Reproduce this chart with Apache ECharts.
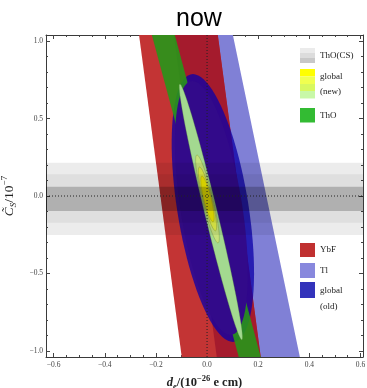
<!DOCTYPE html>
<html>
<head>
<meta charset="utf-8">
<script src="https://cdn.jsdelivr.net/npm/echarts@6/dist/echarts.min.js"></script>
<style>
  html, body { margin: 0; padding: 0; background: #fff; }
  #chart { width: 367px; height: 388px; }
</style>
</head>
<body>
<div id="chart"></div>
<script>
// axis ranges and tick labels
const xMin = -0.63, xMax = 0.61, yMin = -1.04, yMax = 1.04;
const xTicks = [-0.6, -0.4, -0.2, 0, 0.2, 0.4, 0.6];
const yTicks = [-1, -0.5, 0, 0.5, 1];
const xMinor = [];
for (let i = -12; i <= 12; i++) if (i % 4) xMinor.push(i * 0.05);
const yMinor = [];
for (let i = -10; i <= 10; i++) if (i % 5) yMinor.push(i / 10);

// experimental bands: polygon vertices [d_e, C_S]
const tlBand = [[-0.126, 1.04], [0.101, 1.04], [0.363, -1.04], [0.135, -1.04]];
const ybfOuter = [[-0.266, 1.04], [0.042, 1.04], [0.210, -1.04], [-0.099, -1.04]];
const ybfInner = [[-0.130, 1.04], [0.042, 1.04], [0.210, -1.04], [0.038, -1.04]];
const thoBand = [[-0.216, 1.04], [-0.126, 1.04], [0.210, -1.04], [0.124, -1.04]];
// ThO(CS) horizontal bands [upper, lower]
const thoCS = [[0.215, -0.252], [0.140, -0.172], [0.060, -0.097]];
const thoCSAlpha = [0.075, 0.06, 0.21];

// ellipses: [cx, cy, top dx, top dy, half width at centre]
const globalOldOuter = [0.0227, -0.0774, -0.078, 0.865, 0.141];
const globalOldInner = [0.0170, -0.0774, -0.074, 0.820, 0.122];
const globalNew = [
  [0.0148, -0.1032, -0.121, 0.826, 0.0254],
  [0.0016, -0.019, -0.041, 0.284, 0.0215],
  [0.0016, -0.019, -0.031, 0.206, 0.0180],
  [0.0016, -0.019, -0.0215, 0.148, 0.0148]
];

function polygonSeries(pts, fill) {
  return {
    type: 'custom', clip: true, silent: true, data: pts,
    renderItem: (params, api) => params.dataIndex !== 0 ? null : ({
      type: 'polygon',
      shape: { points: pts.map(p => api.coord(p)) },
      style: { fill: fill }
    })
  };
}

function ellipseSeries(e, fill, stroke) {
  return {
    type: 'custom', clip: true, silent: true, data: [[e[0], e[1]]],
    renderItem: (params, api) => {
      const pts = [];
      for (let k = 0; k < 90; k++) {
        const t = k / 90 * Math.PI * 2;
        pts.push(api.coord([e[0] + e[2] * Math.cos(t) + e[4] * Math.sin(t), e[1] + e[3] * Math.cos(t)]));
      }
      return {
        type: 'polygon', shape: { points: pts },
        style: { fill: fill, stroke: stroke || null, lineWidth: stroke ? 0.6 : 0 }
      };
    }
  };
}

const fmt = v => (v < 0 ? '\u2212' : '') + Math.abs(v).toFixed(1);
const labelFont = { fontFamily: 'Liberation Serif', fontSize: 7.5, color: '#444' };
const frame = { show: true, onZero: false, lineStyle: { color: '#3a3a3a', width: 1 } };
const noLine = { show: false, onZero: false };

function xAx(pos, major, withLabels) {
  return {
    type: 'value', min: xMin, max: xMax, position: pos,
    axisLine: major ? frame : noLine,
    axisTick: { show: true, inside: true, length: major ? 4 : 2, customValues: major ? xTicks : xMinor, lineStyle: { color: '#444' } },
    axisLabel: withLabels ? { show: true, customValues: xTicks, formatter: fmt, margin: 4, ...labelFont } : { show: false },
    splitLine: { show: false }
  };
}
function yAx(pos, major, withLabels) {
  return {
    type: 'value', min: yMin, max: yMax, position: pos,
    axisLine: major ? frame : noLine,
    axisTick: { show: true, inside: true, length: major ? 4 : 2, customValues: major ? yTicks : yMinor, lineStyle: { color: '#444' } },
    axisLabel: withLabels ? { show: true, customValues: yTicks, formatter: fmt, margin: 3, ...labelFont } : { show: false },
    splitLine: { show: false }
  };
}

const xMain = xAx('bottom', true, true);
xMain.name = '{d|d}{sub|e}{n|/(10}{sup|\u221226}{n| e cm)}';
xMain.nameLocation = 'middle';
xMain.nameGap = 15;
xMain.nameTextStyle = {
  rich: {
    d: { fontFamily: 'Liberation Serif', fontSize: 12.5, fontWeight: 'bold', fontStyle: 'italic', color: '#222', lineHeight: 17 },
    n: { fontFamily: 'Liberation Serif', fontSize: 12.5, fontWeight: 'bold', color: '#222', lineHeight: 17 },
    sub: { fontFamily: 'Liberation Serif', fontSize: 8.5, fontWeight: 'bold', fontStyle: 'italic', color: '#222', verticalAlign: 'bottom' },
    sup: { fontFamily: 'Liberation Serif', fontSize: 8.5, fontWeight: 'bold', color: '#222', verticalAlign: 'top' }
  }
};
const yMain = yAx('left', true, true);
yMain.name = '{c|C\u0303}{sub|S}{n|/10}{sup|\u22127}';
yMain.nameLocation = 'middle';
yMain.nameRotate = 90;
yMain.nameGap = 24;
yMain.nameTextStyle = {
  rich: {
    c: { fontFamily: 'Liberation Serif', fontSize: 13.5, fontStyle: 'italic', color: '#222', lineHeight: 18 },
    n: { fontFamily: 'Liberation Serif', fontSize: 13.5, color: '#222', lineHeight: 18 },
    sub: { fontFamily: 'Liberation Serif', fontSize: 9, fontStyle: 'italic', color: '#222', verticalAlign: 'bottom' },
    sup: { fontFamily: 'Liberation Serif', fontSize: 9, color: '#222', verticalAlign: 'top' }
  }
};

const legendFont = { fontFamily: 'Liberation Serif', fontSize: 9, fill: '#222', verticalAlign: 'middle' };
function swatch(y, h, fill) { return { type: 'rect', shape: { x: 300, y: y, width: 15, height: h }, style: { fill: fill } }; }
function ltext(y, s) { return { type: 'text', x: 320, y: y, style: { text: s, ...legendFont } }; }

const chart = echarts.init(document.getElementById('chart'), null, { renderer: 'canvas' });
chart.setOption({
  animation: false,
  title: { text: 'now', left: 171, top: 2, textStyle: { fontFamily: 'Liberation Sans', fontSize: 25, fontWeight: 'normal', color: '#000' } },
  grid: { left: 46, right: 4, top: 35, bottom: 31, containLabel: false, outerBoundsMode: 'none' },
  xAxis: [xMain, xAx('bottom', false, false), xAx('top', true, false), xAx('top', false, false)],
  yAxis: [yMain, yAx('left', false, false), yAx('right', true, false), yAx('right', false, false)],
  series: [
    polygonSeries(tlBand, '#8080d6'),
    polygonSeries(ybfOuter, '#c33434'),
    polygonSeries(ybfInner, '#a51b2d'),
    ellipseSeries(globalOldOuter, 'rgba(12,0,168,0.77)'),
    polygonSeries(thoBand, 'rgba(40,150,25,0.9)'),
    ellipseSeries(globalOldInner, '#320a8a'),
    ellipseSeries(globalNew[0], '#a3d990', 'rgba(90,140,60,0.5)'),
    ellipseSeries(globalNew[1], '#c6e27c', 'rgba(120,140,40,0.6)'),
    ellipseSeries(globalNew[2], '#e0ee48', 'rgba(120,140,40,0.6)'),
    ellipseSeries(globalNew[3], '#f6f000', 'rgba(140,140,20,0.5)'),
    ...thoCS.map((b, i) => polygonSeries([[xMin, b[0]], [xMax, b[0]], [xMax, b[1]], [xMin, b[1]]], 'rgba(0,0,0,' + thoCSAlpha[i] + ')')),
    { type: 'line', silent: true, symbol: 'none', data: [[0, yMin], [0, yMax]], lineStyle: { color: '#222', width: 1, type: [1, 2] } },
    { type: 'line', silent: true, symbol: 'none', data: [[xMin, 0], [xMax, 0]], lineStyle: { color: '#222', width: 1, type: [1, 2] } }
  ],
  graphic: [
    swatch(48, 5, '#ebebeb'), swatch(53, 5, '#dcdcdc'), swatch(58, 5, '#c8c8c8'), ltext(56, 'ThO(CS)'),
    swatch(69, 7.5, '#ffff00'), swatch(76.5, 7.5, '#f0ff50'), swatch(84, 7, '#d8f860'), swatch(91, 7.5, '#c8f8a8'),
    ltext(77, 'global'), ltext(92, '(new)'),
    swatch(108, 14.5, '#33bb33'), ltext(116, 'ThO'),
    swatch(243, 14, '#c03030'), ltext(250, 'YbF'),
    swatch(263, 15, '#8888dd'), ltext(271, 'Tl'),
    swatch(282, 16, '#3333bb'), ltext(291, 'global'), ltext(307, '(old)')
  ]
});
</script>
</body>
</html>
